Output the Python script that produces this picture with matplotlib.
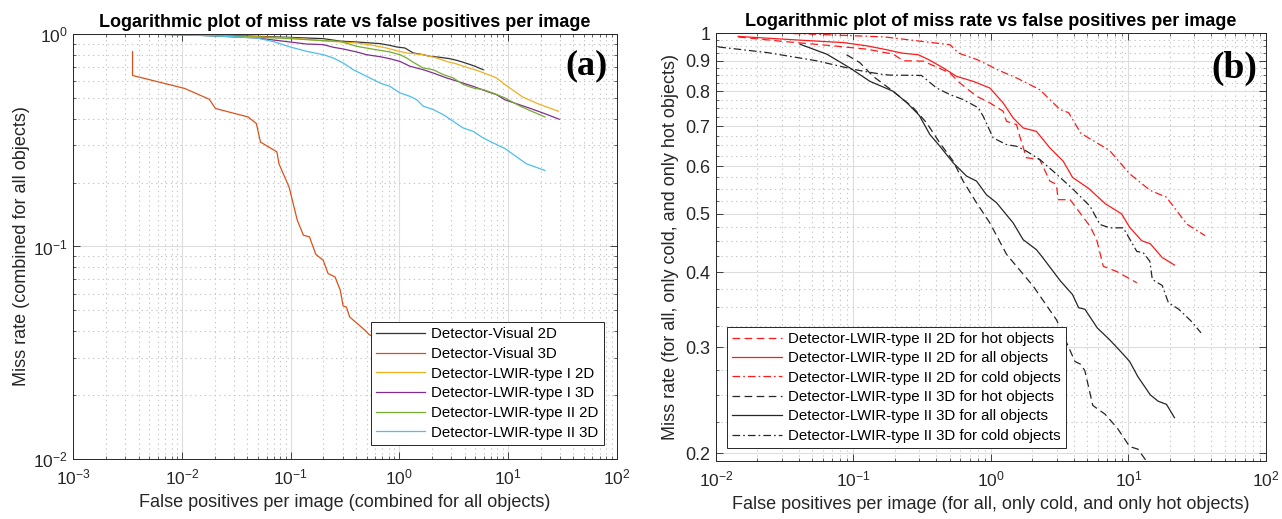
import numpy as np
import matplotlib
matplotlib.use('Agg')
import matplotlib.pyplot as plt
from matplotlib.ticker import LogLocator, FixedLocator, FormatStrFormatter, NullFormatter

plt.rcParams['font.family'] = ['Liberation Sans', 'DejaVu Sans']
plt.rcParams['lines.scale_dashes'] = False

# ---- panel (a): combined for all objects ----
vis2d_x = [0.0055, 0.01, 0.02, 0.05, 0.098, 0.200, 0.284, 0.405, 0.664, 0.820, 0.945, 1.128, 1.345, 1.664, 1.916, 2.368, 2.929, 3.373, 3.88, 4.80, 5.93]
vis2d_y = [1.0, 0.995, 0.99, 0.975, 0.964, 0.951, 0.926, 0.917, 0.901, 0.884, 0.869, 0.859, 0.814, 0.799, 0.785, 0.777, 0.765, 0.752, 0.736, 0.710, 0.679]

vis3d_x = [0.0035, 0.0035, 0.0106, 0.0178, 0.0203, 0.0406, 0.0483, 0.0527, 0.0746, 0.078, 0.0968, 0.115, 0.131, 0.149, 0.170, 0.199, 0.221, 0.256, 0.286, 0.304, 0.326, 0.349, 0.482, 0.526, 0.60]
vis3d_y = [0.826, 0.638, 0.554, 0.493, 0.446, 0.407, 0.379, 0.31, 0.279, 0.245, 0.19, 0.133, 0.113, 0.111, 0.092, 0.0862, 0.0746, 0.0719, 0.0623, 0.0525, 0.0519, 0.0466, 0.0404, 0.0386, 0.037]

lw1_2d_x = [0.0055, 0.02, 0.05, 0.098, 0.200, 0.284, 0.405, 0.576, 0.764, 0.945, 1.168, 1.664, 2.21, 2.73, 3.37, 4.17, 5.16, 6.37, 7.87, 9.40, 13.6, 19.2, 29.2]
lw1_2d_y = [1.0, 0.985, 0.97, 0.958, 0.930, 0.917, 0.907, 0.884, 0.859, 0.835, 0.814, 0.799, 0.771, 0.743, 0.723, 0.697, 0.675, 0.648, 0.621, 0.578, 0.506, 0.468, 0.433]

lw1_3d_x = [0.0045, 0.0146, 0.0486, 0.0984, 0.140, 0.200, 0.247, 0.305, 0.405, 0.500, 0.664, 0.820, 1.014, 1.254, 1.664, 2.056, 2.73, 3.62, 4.80, 6.37, 7.87, 9.40, 16.2, 22.9, 29.7]
lw1_3d_y = [1.0, 0.986, 0.958, 0.917, 0.897, 0.891, 0.866, 0.850, 0.823, 0.799, 0.782, 0.765, 0.743, 0.705, 0.679, 0.655, 0.621, 0.594, 0.567, 0.537, 0.518, 0.49, 0.446, 0.418, 0.397]

lw2_2d_x = [0.006, 0.02, 0.05, 0.0984, 0.200, 0.284, 0.405, 0.537, 0.664, 0.820, 1.014, 1.168, 1.345, 1.664, 2.056, 2.54, 3.14, 3.88, 4.80, 5.93, 7.33, 9.40, 13.0, 16.2, 21.9]
lw2_2d_y = [1.0, 0.98, 0.965, 0.951, 0.930, 0.924, 0.875, 0.853, 0.838, 0.823, 0.799, 0.771, 0.736, 0.692, 0.679, 0.644, 0.621, 0.578, 0.557, 0.547, 0.527, 0.50, 0.457, 0.435, 0.407]

lw2_3d_x = [0.005, 0.02, 0.0486, 0.07, 0.098, 0.140, 0.200, 0.247, 0.305, 0.377, 0.500, 0.664, 0.820, 1.014, 1.254, 1.444, 1.664, 2.056, 2.54, 3.14, 3.88, 4.80, 5.93, 7.33, 9.40, 14.8, 21.9]
lw2_3d_y = [1.0, 0.98, 0.958, 0.92, 0.87, 0.829, 0.799, 0.771, 0.730, 0.679, 0.632, 0.588, 0.567, 0.528, 0.509, 0.491, 0.457, 0.441, 0.417, 0.388, 0.361, 0.348, 0.324, 0.307, 0.289, 0.245, 0.228]

labels_a = ['Detector-Visual 2D', 'Detector-Visual 3D', 'Detector-LWIR-type I 2D',
            'Detector-LWIR-type I 3D', 'Detector-LWIR-type II 2D', 'Detector-LWIR-type II 3D']

# ---- panel (b): all / cold / hot objects ----
r_hot_x = [0.0145, 0.031, 0.0714, 0.125, 0.195, 0.23, 0.321, 0.502, 0.593, 0.784, 0.981, 1.226, 1.297, 1.533, 1.62, 1.81, 2.26, 2.68, 2.99, 3.08, 3.76, 4.44, 5.25, 5.87, 6.56, 8.2, 11.5]
r_hot_y = [0.985, 0.968, 0.952, 0.940, 0.922, 0.899, 0.898, 0.858, 0.826, 0.785, 0.765, 0.741, 0.713, 0.704, 0.673, 0.620, 0.616, 0.567, 0.560, 0.528, 0.528, 0.502, 0.477, 0.453, 0.409, 0.401, 0.384]

r_all_x = [0.0145, 0.0408, 0.0844, 0.125, 0.174, 0.224, 0.296, 0.349, 0.449, 0.561, 0.741, 0.981, 1.226, 1.45, 1.713, 2.14, 2.68, 3.35, 3.92, 5.15, 6.77, 8.91, 10.2, 12.5, 14.4, 17.6, 21.6]
r_all_y = [0.987, 0.973, 0.964, 0.952, 0.938, 0.926, 0.920, 0.904, 0.875, 0.847, 0.831, 0.810, 0.765, 0.722, 0.695, 0.686, 0.644, 0.612, 0.575, 0.551, 0.520, 0.500, 0.475, 0.451, 0.446, 0.423, 0.411]

r_cold_x = [0.0364, 0.0607, 0.169, 0.296, 0.505, 0.579, 0.784, 1.0, 1.096, 1.533, 2.26, 2.68, 3.17, 3.67, 4.50, 7.26, 10.2, 14.4, 18.9, 26.5, 36.1]
r_cold_y = [0.998, 0.994, 0.985, 0.970, 0.956, 0.926, 0.904, 0.880, 0.870, 0.842, 0.805, 0.775, 0.746, 0.737, 0.681, 0.638, 0.583, 0.547, 0.533, 0.481, 0.460]

k_hot_x = [0.089, 0.111, 0.139, 0.194, 0.272, 0.340, 0.425, 0.531, 0.627, 0.784, 0.981, 1.30, 2.03, 3.0, 4.08, 4.5, 4.82, 5.5, 6.77, 8.3, 10.2, 11.7, 13.6, 14.5]
k_hot_y = [0.920, 0.893, 0.847, 0.800, 0.751, 0.709, 0.656, 0.612, 0.567, 0.522, 0.483, 0.428, 0.379, 0.333, 0.284, 0.281, 0.274, 0.240, 0.232, 0.220, 0.205, 0.203, 0.1935, 0.188]

k_all_x = [0.0408, 0.064, 0.094, 0.1316, 0.194, 0.244, 0.30, 0.359, 0.425, 0.531, 0.664, 0.785, 0.927, 1.096, 1.45, 1.713, 2.14, 2.395, 3.19, 3.92, 4.34, 4.82, 5.93, 7.26, 8.91, 10.2, 11.7, 14.4, 16.4, 18.9, 21.6]
k_all_y = [0.958, 0.922, 0.875, 0.831, 0.800, 0.766, 0.730, 0.678, 0.648, 0.608, 0.578, 0.567, 0.538, 0.522, 0.483, 0.453, 0.436, 0.422, 0.387, 0.367, 0.349, 0.347, 0.323, 0.309, 0.294, 0.284, 0.268, 0.250, 0.244, 0.241, 0.229]

k_cold_x = [0.0104, 0.0234, 0.054, 0.1, 0.1175, 0.164, 0.185, 0.312, 0.402, 0.502, 0.627, 0.807, 0.877, 1.037, 1.297, 1.533, 1.81, 2.26, 2.83, 3.74, 3.97, 5.25, 6.21, 7.33, 9.17, 11.5, 12.8, 14.3, 14.9, 17.6, 19.5, 23.2, 28.4, 33.7]
k_cold_y = [0.948, 0.928, 0.899, 0.870, 0.864, 0.853, 0.851, 0.850, 0.810, 0.790, 0.775, 0.751, 0.727, 0.669, 0.652, 0.648, 0.636, 0.616, 0.589, 0.556, 0.549, 0.515, 0.480, 0.474, 0.474, 0.433, 0.431, 0.417, 0.389, 0.380, 0.356, 0.347, 0.332, 0.317]

labels_b = ['Detector-LWIR-type II 2D for hot objects', 'Detector-LWIR-type II 2D for all objects',
            'Detector-LWIR-type II 2D for cold objects', 'Detector-LWIR-type II 3D for hot objects',
            'Detector-LWIR-type II 3D for all objects', 'Detector-LWIR-type II 3D for cold objects']
b_yticks = [0.2, 0.3, 0.4, 0.5, 0.6, 0.7, 0.8, 0.9, 1.0]

title = 'Logarithmic plot of miss rate vs false positives per image'
DASH = (0, (5.5, 3.2))
DASHDOT = (0, (5.5, 2.2, 1.2, 2.2))


def style_axes(ax):
    ax.set_axisbelow(True)
    ax.grid(True, which='major', color='#dddddd', linestyle='-', linewidth=0.8)
    ax.grid(True, which='minor', color='#c8c8c8', linestyle=(0, (1, 2.5)), linewidth=0.8)
    ax.tick_params(which='both', direction='in', top=True, right=True, colors='#262626',
                   labelsize=12.5, labelcolor='#262626')
    ax.tick_params(which='major', length=5, width=0.6)
    ax.tick_params(which='minor', length=2.5, width=0.5)
    ax.tick_params(axis='x', which='both', pad=6)
    ax.tick_params(axis='y', which='both', pad=4)
    for s in ax.spines.values():
        s.set_color('#262626')
        s.set_linewidth(0.7)
    ax.set_title(title, fontsize=13, fontweight='bold', pad=5)


fig = plt.figure(figsize=(12.82, 5.19), dpi=100)

# panel (a)
ax1 = fig.add_axes([0.0573, 0.1156, 0.4236, 0.8189])
lw = 0.9
ax1.plot(vis2d_x, vis2d_y, color='#333333', lw=lw, label=labels_a[0])
ax1.plot(vis3d_x, vis3d_y, color='#D95319', lw=lw, label=labels_a[1])
ax1.plot(lw1_2d_x, lw1_2d_y, color='#EDB120', lw=lw, label=labels_a[2])
ax1.plot(lw1_3d_x, lw1_3d_y, color='#7E2F8E', lw=lw, label=labels_a[3])
ax1.plot(lw2_2d_x, lw2_2d_y, color='#77AC30', lw=lw, label=labels_a[4])
ax1.plot(lw2_3d_x, lw2_3d_y, color='#4DBEEE', lw=lw, label=labels_a[5])
ax1.set_xscale('log')
ax1.set_yscale('log')
ax1.set_xlim(1e-3, 1e2)
ax1.set_ylim(1e-2, 1)
ax1.xaxis.set_major_locator(LogLocator(base=10, numticks=10))
ax1.xaxis.set_minor_locator(LogLocator(base=10, subs=np.arange(2, 10), numticks=20))
ax1.yaxis.set_minor_locator(LogLocator(base=10, subs=np.arange(2, 10), numticks=20))
ax1.xaxis.set_minor_formatter(NullFormatter())
ax1.yaxis.set_minor_formatter(NullFormatter())
style_axes(ax1)
ax1.set_xlabel('False positives per image (combined for all objects)', fontsize=13, color='#262626')
ax1.set_ylabel('Miss rate (combined for all objects)', fontsize=13, color='#262626')
ax1.xaxis.set_label_coords(0.5, -0.083)
ax1.yaxis.set_label_coords(-0.080, 0.5)
leg1 = ax1.legend(loc='lower right', bbox_to_anchor=(0.977, 0.033), borderaxespad=0,
                  fontsize=10.8, handlelength=3.3, handletextpad=0.4, labelspacing=0.38,
                  borderpad=0.35, fancybox=False, framealpha=1, edgecolor='#262626')
leg1.get_frame().set_linewidth(0.7)
ax1.text(0.984, 0.925, '(a)', transform=ax1.transAxes, ha='right', va='center',
         fontsize=26, fontweight='bold', family='Liberation Serif')

# panel (b)
ax2 = fig.add_axes([0.5585, 0.1118, 0.429, 0.8246])
ax2.plot(r_hot_x, r_hot_y, color='#ff1a1a', lw=lw, linestyle=DASH, label=labels_b[0])
ax2.plot(r_all_x, r_all_y, color='#ff1a1a', lw=lw, linestyle='-', label=labels_b[1])
ax2.plot(r_cold_x, r_cold_y, color='#ff1a1a', lw=lw, linestyle=DASHDOT, label=labels_b[2])
ax2.plot(k_hot_x, k_hot_y, color='#262626', lw=lw, linestyle=DASH, label=labels_b[3])
ax2.plot(k_all_x, k_all_y, color='#262626', lw=lw, linestyle='-', label=labels_b[4])
ax2.plot(k_cold_x, k_cold_y, color='#262626', lw=lw, linestyle=DASHDOT, label=labels_b[5])
ax2.set_xscale('log')
ax2.set_yscale('log')
ax2.set_xlim(1e-2, 1e2)
ax2.set_ylim(0.194, 1.0)
ax2.xaxis.set_major_locator(LogLocator(base=10, numticks=10))
ax2.xaxis.set_minor_locator(LogLocator(base=10, subs=np.arange(2, 10), numticks=20))
ax2.xaxis.set_minor_formatter(NullFormatter())
ax2.yaxis.set_major_locator(FixedLocator(b_yticks))
ax2.yaxis.set_major_formatter(FormatStrFormatter('%g'))
ax2.yaxis.set_minor_locator(FixedLocator(np.arange(0.2, 1.0, 0.025)))
ax2.yaxis.set_minor_formatter(NullFormatter())
style_axes(ax2)
ax2.tick_params(axis='y', which='major', labelsize=13)
ax2.set_xlabel('False positives per image (for all, only cold, and only hot objects)', fontsize=13, color='#262626')
ax2.set_ylabel('Miss rate (for all, only cold, and only hot objects)', fontsize=13, color='#262626')
ax2.xaxis.set_label_coords(0.5, -0.082)
ax2.yaxis.set_label_coords(-0.067, 0.5)
leg2 = ax2.legend(loc='lower left', bbox_to_anchor=(0.02, 0.03), borderaxespad=0,
                  fontsize=10.8, handlelength=3.3, handletextpad=0.4, labelspacing=0.36,
                  borderpad=0.35, fancybox=False, framealpha=1, edgecolor='#262626')
leg2.get_frame().set_linewidth(0.7)
ax2.text(0.985, 0.918, '(b)', transform=ax2.transAxes, ha='right', va='center',
         fontsize=27, fontweight='bold', family='Liberation Serif')

fig.savefig('out.png', dpi=100)
